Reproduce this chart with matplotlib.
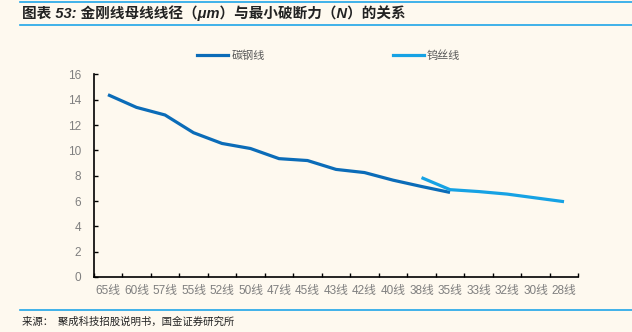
import matplotlib
matplotlib.use("Agg")
import matplotlib.pyplot as plt
from matplotlib.lines import Line2D
import numpy as np

plt.rcParams["font.family"] = ["Liberation Sans", "Noto Sans CJK SC"]
plt.rcParams["font.size"] = 8

# data
categories = ["65线", "60线", "57线", "55线", "52线", "50线", "47线", "45线", "43线",
              "42线", "40线", "38线", "35线", "33线", "32线", "30线", "28线"]
steel = [14.4, 13.4, 12.8, 11.4, 10.55, 10.15, 9.35, 9.2, 8.5, 8.25, 7.65, 7.15, 6.68]
tungsten_cats = ["38线", "35线", "33线", "32线", "30线", "28线"]
tungsten = [7.85, 6.9, 6.75, 6.55, 6.25, 5.95]

bg = "#FEF9EF"
dark = "#0B6CB8"
light = "#16A2E4"
grey = "#7F7F7F"

fig = plt.figure(figsize=(6.32, 3.32), dpi=100, facecolor=bg)
ax = fig.add_axes([0.1483, 0.1657, 0.7667, 0.61], facecolor=bg)

x = np.arange(len(categories))
ax.plot(x[:len(steel)], steel, color=dark, lw=2.3, solid_capstyle="butt")
xt = [categories.index(c) for c in tungsten_cats]
ax.plot(xt, tungsten, color=light, lw=2.3, solid_capstyle="butt")

ax.set_xlim(-0.5, len(categories) - 0.5)
ax.set_ylim(0, 16)
ax.set_yticks(range(0, 17, 2))
ax.set_xticks(np.arange(-0.5, len(categories)), labels=[])
ax.set_xticks(x, labels=categories, minor=True)
ax.tick_params(axis="x", which="major", direction="in", length=3, width=1, color="black")
ax.tick_params(axis="x", which="minor", length=0, pad=6, labelcolor=grey, labelsize=8.5)
ax.tick_params(axis="y", direction="in", length=3, width=1, labelcolor=grey, labelsize=8.5, pad=9)
for s in ["top", "right"]:
    ax.spines[s].set_visible(False)
for s in ["left", "bottom"]:
    ax.spines[s].set_color("black")
    ax.spines[s].set_linewidth(1.2)

handles = [Line2D([], [], color=dark, lw=2.3), Line2D([], [], color=light, lw=2.3)]
fig.legend(handles, ["碳钢线", "钨丝线"], loc="center", bbox_to_anchor=(0.52, 0.832),
           ncol=2, frameon=False, handlelength=2.8, handletextpad=0.3,
           columnspacing=11.5, labelcolor="#595959", fontsize=8)

# title and source with the blue rules
fig.add_artist(Line2D([0.032, 1.0], [0.995, 0.995], color="#1FA6E8", lw=1.2))
fig.add_artist(Line2D([0.032, 1.0], [0.925, 0.925], color="#1FA6E8", lw=1.2))
fig.text(0.035, 0.962, "图表 53: 金刚线母线线径（μm）与最小破断力（N）的关系", fontsize=10.5,
         fontweight="bold", style="italic", color="#222222", va="center",
         family=["Liberation Sans", "Noto Sans CJK SC"])
fig.add_artist(Line2D([0.032, 1.0], [0.066, 0.066], color="#1FA6E8", lw=1.2))
fig.text(0.035, 0.03, "来源：  聚成科技招股说明书，国金证券研究所", fontsize=7.5,
         color="#222222", va="center", family=["Noto Sans CJK SC"])

fig.savefig("out.png", dpi=100, facecolor=bg)
